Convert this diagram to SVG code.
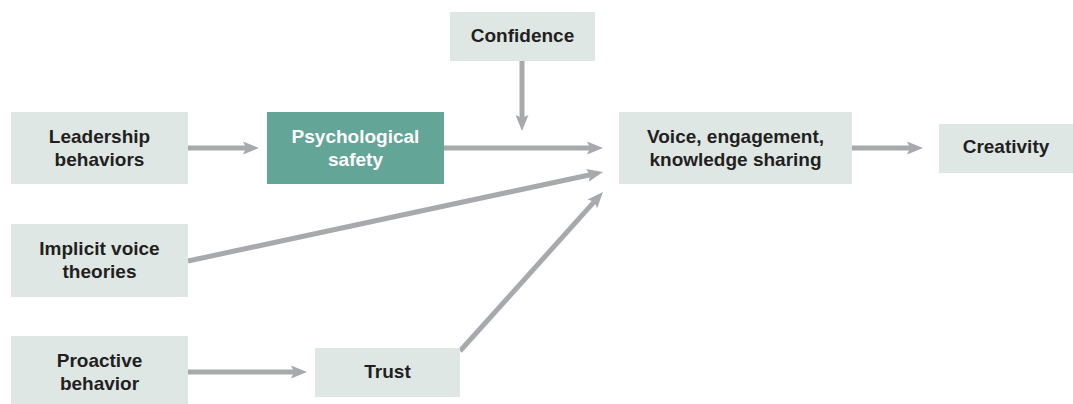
<svg xmlns="http://www.w3.org/2000/svg" width="1073" height="404" viewBox="0 0 1073 404">
<style>
.box{fill:#dfe7e5}
.dark{fill:#63a597}
.t{font-family:"Liberation Sans",Arial,sans-serif;font-weight:700;font-size:19px;fill:#231f20;text-anchor:middle}
.w{fill:#ffffff}
.c{stroke:#a7a9ac;stroke-width:5;fill:none;marker-end:url(#ah)}
</style>
<defs>
<marker id="ah" markerUnits="userSpaceOnUse" markerWidth="20" markerHeight="16" viewBox="0 -8 20 16" refX="3" refY="0" orient="auto">
<path d="M0,-6.5 L16,0 L0,6.5 L3,0 z" fill="#a7a9ac"/>
</marker>
</defs>
<rect width="1073" height="404" fill="#ffffff"/>
<g id="connectors">
<line class="c" x1="188" y1="148" x2="246" y2="148"/>
<line class="c" x1="444" y1="148" x2="590" y2="148"/>
<line class="c" x1="522" y1="61" x2="522" y2="118"/>
<line class="c" x1="188" y1="261" x2="590.3" y2="174.7"/>
<line class="c" x1="460" y1="351" x2="594.3" y2="201.7"/>
<line class="c" x1="188" y1="372" x2="294" y2="372"/>
<line class="c" x1="852" y1="148" x2="910" y2="148"/>
</g>
<g id="leadership">
<rect class="box" x="11" y="112" width="177" height="72"/>
<text class="t" x="99.5" y="143">Leadership</text>
<text class="t" x="99.5" y="166">behaviors</text>
</g>
<g id="psych">
<rect class="dark" x="267" y="112" width="177" height="72"/>
<text class="t w" x="355.5" y="143">Psychological</text>
<text class="t w" x="355.5" y="166">safety</text>
</g>
<g id="confidence">
<rect class="box" x="450" y="12" width="145" height="49"/>
<text class="t" x="522.5" y="42">Confidence</text>
</g>
<g id="voice">
<rect class="box" x="619" y="112" width="233" height="72"/>
<text class="t" x="735.5" y="143">Voice, engagement,</text>
<text class="t" x="735.5" y="166">knowledge sharing</text>
</g>
<g id="creativity">
<rect class="box" x="939" y="124" width="134" height="49"/>
<text class="t" x="1006" y="153">Creativity</text>
</g>
<g id="implicit">
<rect class="box" x="11" y="224" width="177" height="73"/>
<text class="t" x="99.5" y="255">Implicit voice</text>
<text class="t" x="99.5" y="278">theories</text>
</g>
<g id="proactive">
<rect class="box" x="11" y="336" width="177" height="72"/>
<text class="t" x="99.5" y="367">Proactive</text>
<text class="t" x="99.5" y="390">behavior</text>
</g>
<g id="trust">
<rect class="box" x="315" y="348" width="145" height="49"/>
<text class="t" x="387.5" y="378">Trust</text>
</g>
</svg>
